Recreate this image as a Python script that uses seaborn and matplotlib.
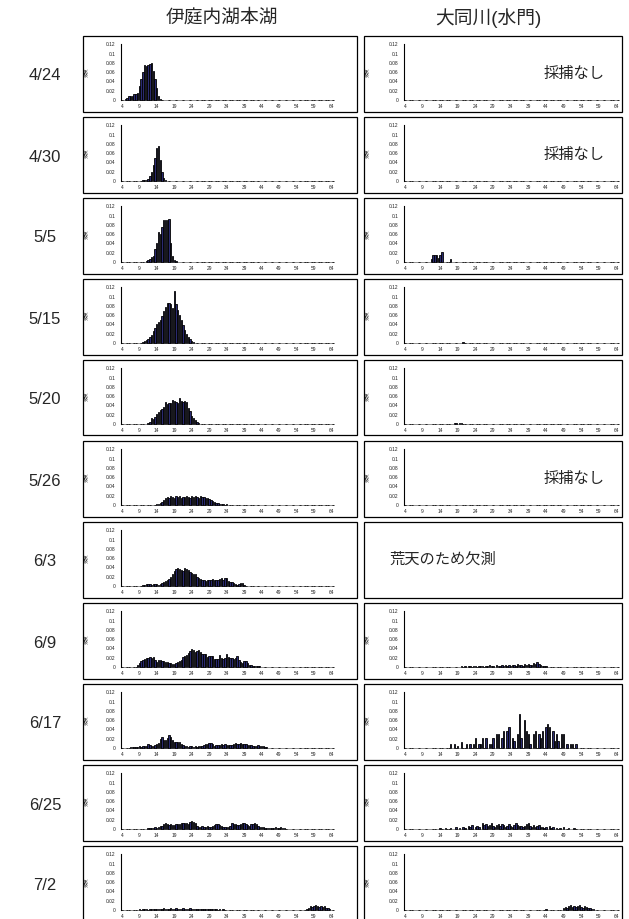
import numpy as np
import pandas as pd
import matplotlib
matplotlib.use("Agg")
import matplotlib.pyplot as plt
from matplotlib.patches import Rectangle
import seaborn as sns

sns.set_style("white")
plt.rcParams['font.family'] = ['Liberation Sans', 'Noto Sans CJK JP']

# size classes (mm), 0.5 mm bins
sizes = np.arange(4.0, 65.0, 0.5)
x_tick_labels = ["4", "9", "14", "19", "24", "29", "34", "39", "44", "49", "54", "59", "64"]
y_tick_values = [0, 0.02, 0.04, 0.06, 0.08, 0.1, 0.12]
y_tick_labels = ["0", "0.02", "0.04", "0.06", "0.08", "0.1", "0.12"]

dates = ["4/24", "4/30", "5/5", "5/15", "5/20", "5/26", "6/3", "6/9", "6/17", "6/25", "7/2"]
sites = ["伊庭内湖本湖", "大同川(水門)"]
y_label = "頻度"

# (first size class, relative frequencies)
lake_0424 = [(5.0, [0.002, 0.004, 0.008, 0.009, 0.009, 0.012, 0.014, 0.016, 0.03, 0.045, 0.06,
                    0.075, 0.074, 0.076, 0.078, 0.079, 0.062, 0.045, 0.025, 0.008, 0.002])]
lake_0430 = [(10.0, [0.002, 0.003, 0.002, 0.004, 0.01, 0.02, 0.035, 0.05, 0.072, 0.076, 0.045,
                     0.02, 0.006, 0.002])]
lake_0505 = [(11.0, [0.002, 0.004, 0.007, 0.01, 0.013, 0.027, 0.04, 0.064, 0.06, 0.075, 0.09,
                     0.091, 0.091, 0.093, 0.04, 0.014, 0.005, 0.002])]
lake_0515 = [(10.0, [0.002, 0.004, 0.006, 0.008, 0.013, 0.018, 0.025, 0.032, 0.04, 0.046, 0.05,
                     0.058, 0.068, 0.077, 0.086, 0.086, 0.085, 0.076, 0.112, 0.085, 0.072, 0.06,
                     0.05, 0.038, 0.028, 0.02, 0.013, 0.008, 0.005, 0.003, 0.001])]
lake_0520 = [(11.5, [0.002, 0.005, 0.012, 0.01, 0.016, 0.022, 0.025, 0.03, 0.033, 0.036, 0.048,
                     0.044, 0.045, 0.046, 0.052, 0.05, 0.048, 0.046, 0.055, 0.05, 0.048, 0.05,
                     0.048, 0.035, 0.028, 0.018, 0.012, 0.008, 0.005, 0.002])]
lake_0526 = [(14.0, [0.002, 0.003, 0.004, 0.006, 0.01, 0.015, 0.018, 0.016, 0.02, 0.017, 0.015,
                     0.019, 0.018, 0.02, 0.016, 0.018, 0.017, 0.02, 0.018, 0.016, 0.019, 0.017,
                     0.02, 0.018, 0.016, 0.019, 0.017, 0.018, 0.015, 0.016, 0.012, 0.01, 0.008,
                     0.006, 0.005, 0.004, 0.003, 0.002, 0.002, 0.0, 0.002])]
lake_0603 = [(10.0, [0.002, 0.003, 0.005, 0.005, 0.004, 0.003, 0.004, 0.005, 0.004, 0.003, 0.004,
                     0.006, 0.008, 0.01, 0.013, 0.016, 0.02, 0.025, 0.033, 0.036, 0.038, 0.036,
                     0.034, 0.032, 0.038, 0.036, 0.034, 0.031, 0.027, 0.025, 0.025, 0.02, 0.018,
                     0.015, 0.012, 0.012, 0.011, 0.012, 0.013, 0.012, 0.015, 0.014, 0.013, 0.012,
                     0.016, 0.018, 0.013, 0.018, 0.017, 0.01, 0.008, 0.008, 0.007, 0.004, 0.003,
                     0.004, 0.007, 0.006, 0.002])]
lake_0609 = [(8.5, [0.004, 0.008, 0.013, 0.016, 0.018, 0.02, 0.02, 0.021, 0.02, 0.021, 0.016,
                    0.011, 0.016, 0.015, 0.014, 0.013, 0.011, 0.01, 0.009, 0.008, 0.007, 0.006,
                    0.009, 0.011, 0.013, 0.015, 0.022, 0.023, 0.026, 0.03, 0.035, 0.038, 0.036,
                    0.032, 0.034, 0.037, 0.033, 0.029, 0.027, 0.028, 0.022, 0.024, 0.024, 0.023,
                    0.018, 0.017, 0.018, 0.026, 0.02, 0.018, 0.02, 0.028, 0.021, 0.02, 0.02,
                    0.018, 0.019, 0.024, 0.015, 0.01, 0.008, 0.012, 0.013, 0.008, 0.005, 0.004,
                    0.003, 0.003, 0.003, 0.002, 0.002])]
lake_0617 = [(6.5, [0.002, 0.002, 0.002, 0.002, 0.003, 0.004, 0.003, 0.004, 0.005, 0.004, 0.008,
                    0.006, 0.004, 0.005, 0.006, 0.008, 0.01, 0.02, 0.024, 0.018, 0.017, 0.022,
                    0.027, 0.023, 0.018, 0.014, 0.013, 0.014, 0.012, 0.008, 0.006, 0.004, 0.005,
                    0.003, 0.004, 0.005, 0.003, 0.004, 0.003, 0.005, 0.004, 0.005, 0.006, 0.008,
                    0.008, 0.01, 0.01, 0.008, 0.005, 0.006, 0.007, 0.006, 0.008, 0.007, 0.008,
                    0.006, 0.007, 0.006, 0.006, 0.008, 0.01, 0.008, 0.009, 0.01, 0.009, 0.008,
                    0.008, 0.007, 0.006, 0.006, 0.005, 0.004, 0.005, 0.006, 0.005, 0.005, 0.004,
                    0.003, 0.002])]
lake_0625 = [(11.5, [0.003, 0.002, 0.002, 0.003, 0.004, 0.003, 0.004, 0.006, 0.007, 0.01, 0.012,
                     0.01, 0.009, 0.011, 0.009, 0.008, 0.01, 0.01, 0.011, 0.012, 0.012, 0.014,
                     0.012, 0.01, 0.016, 0.017, 0.015, 0.012, 0.006, 0.005, 0.005, 0.006, 0.005,
                     0.005, 0.006, 0.004, 0.005, 0.006, 0.008, 0.01, 0.01, 0.009, 0.006, 0.005,
                     0.004, 0.004, 0.005, 0.006, 0.013, 0.011, 0.01, 0.008, 0.008, 0.01, 0.012,
                     0.014, 0.01, 0.008, 0.006, 0.011, 0.011, 0.012, 0.01, 0.006, 0.004, 0.004,
                     0.004, 0.003, 0.003, 0.002, 0.002, 0.002, 0.003, 0.004, 0.003, 0.003, 0.004,
                     0.003, 0.002])]
lake_0702 = [(9.0, [0.002, 0.0, 0.002, 0.003, 0.002, 0.0, 0.003, 0.002, 0.002, 0.003, 0.002,
                    0.003, 0.002, 0.003, 0.004, 0.003, 0.002, 0.003, 0.004, 0.002, 0.003, 0.004,
                    0.003, 0.002, 0.003, 0.004, 0.003, 0.002, 0.003, 0.004, 0.003, 0.002, 0.003,
                    0.002, 0.003, 0.002, 0.003, 0.002, 0.002, 0.003, 0.002, 0.002, 0.003, 0.002,
                    0.002, 0.0, 0.002, 0.0, 0.002]),
             (57.0, [0.003, 0.005, 0.008, 0.006, 0.009, 0.01, 0.008, 0.007, 0.009, 0.006, 0.008,
                     0.005, 0.004, 0.003])]

river_0424 = []
river_0430 = []
river_0505 = [(11.5, [0.006, 0.015, 0.015, 0.015, 0.008, 0.015, 0.022, 0.0, 0.0, 0.0, 0.0, 0.006])]
river_0515 = [(20.5, [0.003])]
river_0520 = [(18.0, [0.002, 0.002, 0.0, 0.002, 0.002])]
river_0526 = []
river_0603 = None
river_0609 = [(20.0, [0.002, 0.0, 0.002, 0.0, 0.003, 0.002, 0.0, 0.002, 0.003, 0.0, 0.002, 0.003,
                      0.002, 0.0, 0.003, 0.002, 0.004, 0.002, 0.003, 0.0, 0.004, 0.003, 0.002,
                      0.004, 0.003, 0.005, 0.003, 0.004, 0.002, 0.005, 0.004, 0.003, 0.006,
                      0.004, 0.005, 0.003, 0.006, 0.004, 0.007, 0.005, 0.004, 0.008, 0.006,
                      0.01, 0.006, 0.004, 0.003, 0.002, 0.002])]
river_0617 = [(17.0, [0.008, 0.0, 0.008, 0.0, 0.004, 0.0, 0.014, 0.0, 0.0, 0.008, 0.0, 0.008, 0.0,
                      0.008, 0.022, 0.0, 0.008, 0.008, 0.022, 0.0, 0.022, 0.0, 0.008, 0.008,
                      0.022, 0.0, 0.03, 0.03, 0.0, 0.022, 0.037, 0.0, 0.037, 0.045, 0.0, 0.022,
                      0.015, 0.0, 0.03, 0.073, 0.022, 0.0, 0.06, 0.037, 0.03, 0.008, 0.0, 0.03,
                      0.037, 0.0, 0.03, 0.022, 0.037, 0.0, 0.045, 0.052, 0.045, 0.0, 0.037,
                      0.015, 0.03, 0.015, 0.0, 0.03, 0.03, 0.0, 0.008, 0.0, 0.008, 0.008, 0.0,
                      0.008])]
river_0625 = [(14.0, [0.002, 0.0, 0.0, 0.003, 0.0, 0.0, 0.002, 0.0, 0.0, 0.004, 0.0, 0.003, 0.0,
                      0.005, 0.003, 0.0, 0.006, 0.004, 0.008, 0.0, 0.005, 0.007, 0.004, 0.0,
                      0.012, 0.008, 0.01, 0.006, 0.009, 0.012, 0.007, 0.005, 0.009, 0.01, 0.006,
                      0.011, 0.008, 0.004, 0.007, 0.01, 0.006, 0.004, 0.008, 0.012, 0.009,
                      0.006, 0.007, 0.004, 0.006, 0.01, 0.012, 0.007, 0.005, 0.008, 0.004,
                      0.006, 0.009, 0.004, 0.005, 0.003, 0.004, 0.0, 0.006, 0.003, 0.005, 0.0,
                      0.003, 0.0, 0.002, 0.0, 0.004, 0.0, 0.0, 0.002, 0.0, 0.0, 0.003])]
river_0702 = [(44.0, [0.002]),
              (49.0, [0.004, 0.006, 0.005, 0.008, 0.01, 0.007, 0.009, 0.006, 0.008, 0.01, 0.007,
                      0.005, 0.008, 0.006, 0.004, 0.005, 0.003, 0.002])]

lake = [lake_0424, lake_0430, lake_0505, lake_0515, lake_0520, lake_0526,
        lake_0603, lake_0609, lake_0617, lake_0625, lake_0702]
river = [river_0424, river_0430, river_0505, river_0515, river_0520, river_0526,
         river_0603, river_0609, river_0617, river_0625, river_0702]
no_catch_rows = [0, 1, 5]
no_catch_text = "採捕なし"
missing_text = "荒天のため欠測"

BAR_COLOR = "#2a2a70"
W, H = 629, 919


def expand(segments):
    v = np.zeros(len(sizes))
    for start, vals in segments:
        i = int(round((start - sizes[0]) / 0.5))
        v[i:i + len(vals)] = vals
    return v


def fx(px):
    return px / W


def fy(py):
    return 1 - py / H


def draw_panel(ax, segments):
    df = pd.DataFrame({"size": np.arange(len(sizes)), "freq": expand(segments)})
    sns.barplot(data=df, x="size", y="freq", color=BAR_COLOR, saturation=1,
                edgecolor="black", linewidth=0.6, width=0.8, errorbar=None, ax=ax)
    for p in ax.patches:
        p.set_clip_on(False)
    ax.set_xlim(-0.5, len(sizes) - 0.5)
    ax.set_ylim(0, 0.12)
    ax.set_xticks(np.arange(0, len(sizes), 10))
    ax.set_xticklabels(x_tick_labels)
    ax.set_yticks(y_tick_values)
    ax.set_yticklabels(y_tick_labels)
    ax.tick_params(axis="x", length=0, labelsize=3.5, pad=3, colors="#222222")
    ax.tick_params(axis="y", direction="in", length=2, width=0.5, labelsize=3.5, pad=4,
                   colors="#222222")
    for s in ["top", "right", "bottom"]:
        ax.spines[s].set_visible(False)
    ax.spines["left"].set_linewidth(0.8)
    ax.spines["left"].set_color("black")
    ax.set_xlabel("")
    ax.set_ylabel(y_label, fontsize=3.5, rotation=90)


fig = plt.figure(figsize=(W / 100, H / 100), dpi=100)

col_box = [(83, 357), (364, 622)]
col_axes = [(121, 213), (404, 215)]
pitch = 81

for i, date in enumerate(dates):
    top = 36 + pitch * i
    for c in range(2):
        bx0, bx1 = col_box[c]
        fig.patches.append(Rectangle((fx(bx0), fy(top + 75.5)), fx(bx1 - bx0), 75.5 / H,
                                     transform=fig.transFigure, fill=False,
                                     edgecolor="black", linewidth=0.9))
        data = lake[i] if c == 0 else river[i]
        if data is None:
            fig.text(fx(389), fy(top + 38), missing_text, fontsize=11, ha="left", va="center")
            continue
        l, w = col_axes[c]
        ax = fig.add_axes([fx(l), fy(100 + pitch * i), fx(w), 55.7 / H])
        draw_panel(ax, data)
        ax.yaxis.set_label_coords(-(l - (88 if c == 0 else 369)) / w, 0.5)
        if c == 1 and i in no_catch_rows:
            fig.text(fx(574), fy(top + 38), no_catch_text, fontsize=11, ha="center", va="center")
    fig.text(fx(45), fy(top + 40), date, fontsize=12, ha="center", va="center")

fig.text(fx(222), fy(18), sites[0], fontsize=13.5, ha="center", va="center")
fig.text(fx(488), fy(18), sites[1], fontsize=13.5, ha="center", va="center")

fig.savefig("out.png", dpi=100)
